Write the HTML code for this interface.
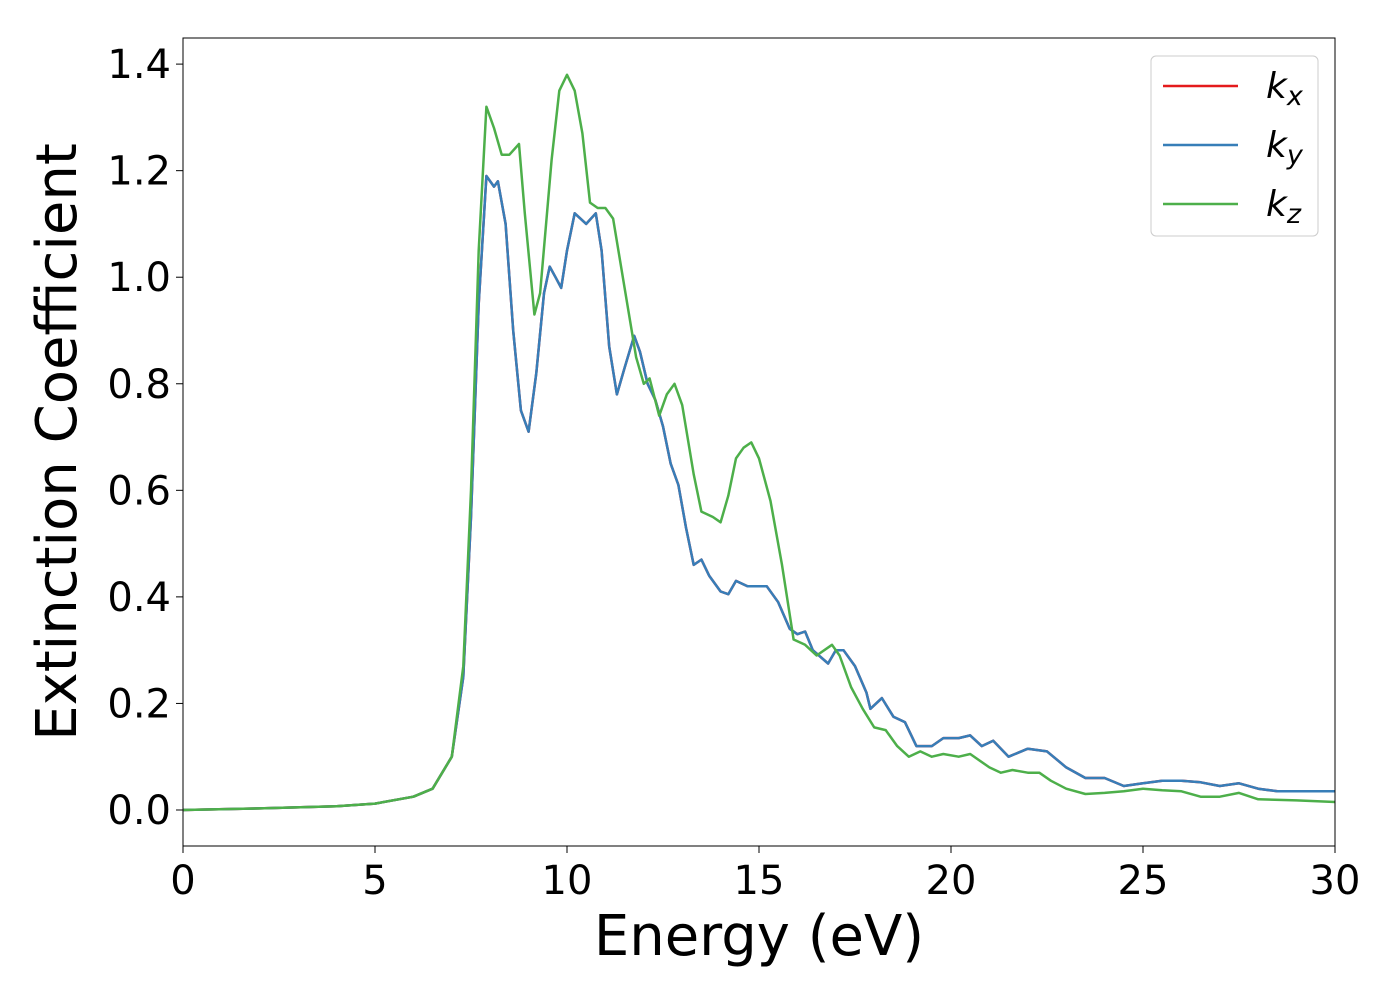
<!DOCTYPE html>
<html><head><meta charset="utf-8"><style>body{margin:0;background:#fff}svg text{font-family:"DejaVu Sans","Liberation Sans",sans-serif}</style></head>
<body>
<svg id="chart" width="1400" height="1000" xmlns="http://www.w3.org/2000/svg">
<g id="plot"></g>
</svg>
<script>
const energyXY=[0,2,4,5,6,6.5,7,7.3,7.5,7.7,7.9,8.1,8.2,8.4,8.6,8.8,9.0,9.2,9.4,9.55,9.7,9.85,10.0,10.2,10.35,10.5,10.75,10.9,11.1,11.3,11.5,11.75,11.9,12.1,12.3,12.5,12.7,12.9,13.1,13.3,13.5,13.7,14.0,14.2,14.4,14.7,15.0,15.2,15.5,15.8,16.0,16.2,16.4,16.8,17.0,17.2,17.5,17.8,17.9,18.2,18.5,18.8,19.1,19.5,19.8,20.2,20.5,20.8,21.1,21.5,22.0,22.5,23.0,23.5,24.0,24.5,25.0,25.5,26.0,26.5,27.0,27.5,28.0,28.5,29.0,30];
const kxValues=[0,0.003,0.007,0.012,0.025,0.04,0.1,0.25,0.55,0.95,1.19,1.17,1.18,1.1,0.9,0.75,0.71,0.82,0.97,1.02,1.0,0.98,1.05,1.12,1.11,1.10,1.12,1.05,0.87,0.78,0.83,0.89,0.86,0.80,0.77,0.72,0.65,0.61,0.53,0.46,0.47,0.44,0.41,0.405,0.43,0.42,0.42,0.42,0.39,0.34,0.33,0.335,0.30,0.275,0.30,0.30,0.27,0.22,0.19,0.21,0.175,0.165,0.12,0.12,0.135,0.135,0.14,0.12,0.13,0.10,0.115,0.11,0.08,0.06,0.06,0.045,0.05,0.055,0.055,0.052,0.045,0.05,0.04,0.035,0.035,0.035];
const kyValues=kxValues.slice();
const energyZ=[0,2,4,5,6,6.5,7,7.3,7.5,7.7,7.9,8.1,8.3,8.5,8.75,8.9,9.15,9.3,9.6,9.8,10.0,10.2,10.4,10.6,10.8,11.0,11.2,11.5,11.8,12.0,12.15,12.4,12.6,12.8,13.0,13.3,13.5,13.8,14.0,14.2,14.4,14.6,14.8,15.0,15.3,15.6,15.9,16.2,16.5,16.9,17.1,17.4,17.7,18.0,18.3,18.6,18.9,19.2,19.5,19.8,20.2,20.5,21.0,21.3,21.6,22.0,22.3,22.6,23.0,23.5,24.0,24.5,25.0,25.5,26.0,26.5,27.0,27.5,28.0,29.0,30];
const kzValues=[0,0.003,0.007,0.012,0.025,0.04,0.1,0.27,0.6,1.05,1.32,1.28,1.23,1.23,1.25,1.12,0.93,0.97,1.22,1.35,1.38,1.35,1.27,1.14,1.13,1.13,1.11,0.98,0.85,0.80,0.81,0.74,0.78,0.80,0.76,0.63,0.56,0.55,0.54,0.59,0.66,0.68,0.69,0.66,0.58,0.46,0.32,0.31,0.29,0.31,0.29,0.23,0.19,0.155,0.15,0.12,0.10,0.11,0.10,0.105,0.10,0.105,0.08,0.07,0.075,0.07,0.07,0.055,0.04,0.03,0.032,0.035,0.04,0.037,0.035,0.025,0.025,0.032,0.02,0.018,0.015];
const xTicks=[0,5,10,15,20,25,30];
const yTicks=[0,0.2,0.4,0.6,0.8,1.0,1.2,1.4];
const yTickLabels=["0.0","0.2","0.4","0.6","0.8","1.0","1.2","1.4"];

const L=183,R=1335,T=38,B=846,X0=0,X1=30,Y0=-0.0676,Y1=1.449;
const xs=v=>L+(v-X0)/(X1-X0)*(R-L);
const ys=v=>B-(v-Y0)/(Y1-Y0)*(B-T);
const NS="http://www.w3.org/2000/svg";
const g=document.getElementById('plot');
function mk(t,a,p){const e=document.createElementNS(NS,t);for(const k in a)e.setAttribute(k,a[k]);(p||g).appendChild(e);return e;}
function series(xa,ya,color,name){
  const d=xa.map((x,i)=>(i?'L':'M')+xs(x).toFixed(1)+','+ys(ya[i]).toFixed(1)).join('');
  const p=mk('path',{d:d,fill:'none',stroke:color,'stroke-width':2.5,'stroke-linejoin':'round'});
  
  
}
series(energyXY,kxValues,'#e41a1c','series-kx');
series(energyXY,kyValues,'#377eb8','series-ky');
series(energyZ,kzValues,'#4daf4a','series-kz');
const frame=mk('rect',{x:L,y:T,width:R-L,height:B-T,fill:'none',stroke:'#000','stroke-width':1});


xTicks.forEach(v=>{
  mk('line',{x1:xs(v),x2:xs(v),y1:B,y2:B+7,stroke:'#000','stroke-width':1});
  const t=mk('text',{x:xs(v),y:B+48,'font-size':40,'text-anchor':'middle'});t.textContent=v;
  
  
});
yTicks.forEach((v,i)=>{
  mk('line',{x1:L-7,x2:L,y1:ys(v),y2:ys(v),stroke:'#000','stroke-width':1});
  const t=mk('text',{x:L-12,y:ys(v)+14,'font-size':40,'text-anchor':'end'});t.textContent=yTickLabels[i];
  
  
});
const xt=mk('text',{x:759,y:955,'font-size':56,'text-anchor':'middle'});xt.textContent='Energy (eV)';


const yt=mk('text',{x:0,y:0,'font-size':56,'text-anchor':'middle',transform:'translate(76,442) rotate(-90)'});yt.textContent='Extinction Coefficient';


const lg=mk('g',{});


mk('rect',{x:1151,y:56,width:167,height:180,rx:5,fill:'#fff','fill-opacity':0.8,stroke:'#ccc','stroke-width':1},lg);
[['#e41a1c','x',86],['#377eb8','y',145],['#4daf4a','z',204]].forEach(([c,s,y])=>{
  const e=mk('g',{},lg);
  
  
  mk('line',{x1:1163,x2:1238,y1:y,y2:y,stroke:c,'stroke-width':2.5},e);
  const t=mk('text',{x:1266,y:y+12,'font-size':36,'font-style':'italic'},e);
  t.innerHTML='k<tspan font-size="27" dy="7">'+s+'</tspan>';
});
</script>
</body></html>
